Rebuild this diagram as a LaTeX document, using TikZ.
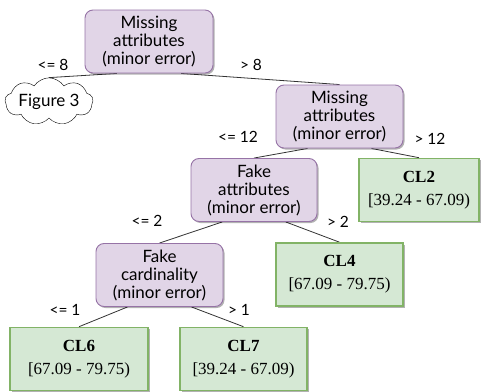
\documentclass[tikz,border=0pt]{standalone}
\usepackage{fontspec}
\usepackage{tikz}
\usetikzlibrary{shapes,shadows,calc,backgrounds}
\usetikzlibrary{shapes.symbols}

\newfontfamily\treeFont{Lato}
\newfontfamily\leafFont{Liberation Serif}

\definecolor{splitFill}{HTML}{E1D5E7}
\definecolor{splitDraw}{HTML}{9673A6}
\definecolor{leafFill}{HTML}{D5E8D4}
\definecolor{leafDraw}{HTML}{82B366}

\begin{document}
\begin{tikzpicture}[x=1pt, y=-1pt,
        splitNode/.style={draw=splitDraw, fill=splitFill, line width=0.9pt,
                rounded corners=8pt, inner sep=0pt, align=center,
                minimum width=127pt, minimum height=63pt,
                font=\treeFont\fontsize{17}{18}\selectfont,
                drop shadow={shadow xshift=1.5pt, shadow yshift=-1.5pt, opacity=0.3, fill=black}},
        leafNode/.style={draw=leafDraw, fill=leafFill, line width=1.6pt,
                inner sep=0pt, align=center, minimum height=63pt,
                font=\leafFont\fontsize{17}{23}\selectfont,
                drop shadow={shadow xshift=1.5pt, shadow yshift=-1.5pt, opacity=0.3, fill=black}},
        edgeLabel/.style={inner sep=0pt, font=\treeFont\fontsize{15.5}{16}\selectfont},
        edgeLine/.style={draw=black!80, line width=0.8pt}]

        % keep the page at the size of the reference
        \useasboundingbox (0,0) rectangle (487,391);

        % Parameters
        \def\splitText#1{#1\\attributes\\(minor error)}   % text of a split box

        % split boxes
        \node[splitNode, minimum width=128pt] (rootSplit) at (149,41.5) {\splitText{Missing}};
        \node[splitNode] (missingSplit) at (339.5,116.5) {\splitText{Missing}};
        \node[splitNode, minimum width=126pt] (fakeAttrSplit) at (254,190) {\splitText{Fake}};
        \node[splitNode] (fakeCardSplit) at (159.5,275) {Fake\\cardinality\\(minor error)};

        % cloud to the other figure
        \node[cloud, cloud puffs=9, cloud puff arc=115, aspect=2.6, draw, fill=white,
              inner sep=0pt, minimum width=88pt, minimum height=35pt,
              font=\treeFont\fontsize{17}{18}\selectfont] (figCloud) at (49,101.5) {Figure 3};

        % leaves
        \node[leafNode, minimum width=120pt] (leafTwo) at (419,190) {\textbf{CL2}\\{}[39.24 - 67.09)};
        \node[leafNode, minimum width=127pt] (leafFour) at (339.5,274.5) {\textbf{CL4}\\{}[67.09 - 79.75)};
        \node[leafNode, minimum width=138pt] (leafSix) at (79,359) {\textbf{CL6}\\{}[67.09 - 79.75)};
        \node[leafNode, minimum width=127pt] (leafSeven) at (243.5,359) {\textbf{CL7}\\{}[39.24 - 67.09)};

        % Connectors
        \begin{scope}[on background layer]
            \foreach \parent/\child/\side in {rootSplit/figCloud/0.25, rootSplit/missingSplit/0.75,
                    missingSplit/fakeAttrSplit/0.25, missingSplit/leafTwo/0.75,
                    fakeAttrSplit/fakeCardSplit/0.25, fakeAttrSplit/leafFour/0.75,
                    fakeCardSplit/leafSix/0.25, fakeCardSplit/leafSeven/0.75} {
                \draw[edgeLine] ($(\parent.south west)!\side!(\parent.south east)$) -- (\child.north);
            }
        \end{scope}

        % Text
        \node[edgeLabel] (labelRootLe) at (53,65) {<= 8};
        \node[edgeLabel] (labelRootGt) at (251,65) {> 8};
        \node[edgeLabel] (labelMissLe) at (238,137) {<= 12};
        \node[edgeLabel] (labelMissGt) at (430,139) {> 12};
        \node[edgeLabel] (labelAttrLe) at (147,221) {<= 2};
        \node[edgeLabel] (labelAttrGt) at (338,222) {> 2};
        \node[edgeLabel] (labelCardLe) at (65,310) {<= 1};
        \node[edgeLabel] (labelCardGt) at (239,310) {> 1};

\end{tikzpicture}
\end{document}
